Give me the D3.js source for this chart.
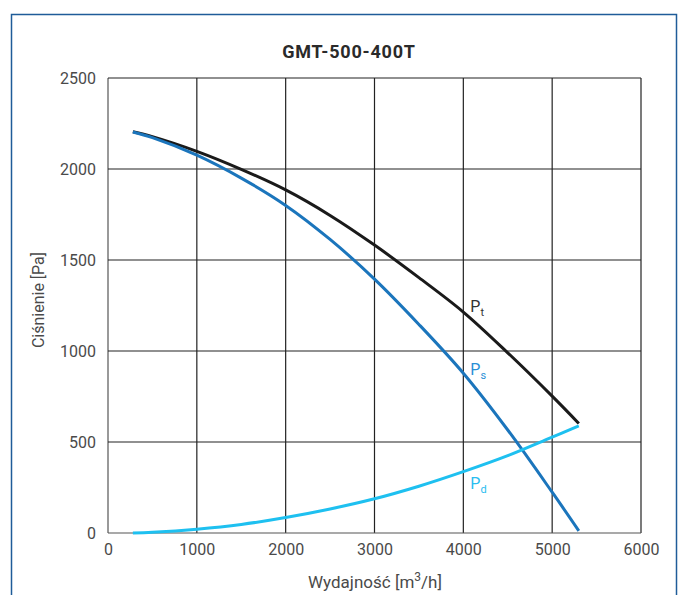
<!DOCTYPE html>
<html><head><meta charset="utf-8">
<script src="https://cdn.jsdelivr.net/npm/d3@7/dist/d3.min.js"></script>
<style>
body{margin:0;background:#fff;}
svg text{font-family:"Roboto","DejaVu Sans",sans-serif;}
</style></head>
<body><svg id="c" width="683" height="595"></svg>
<script>
const title = "GMT-500-400T";
const xLabelMain = "Wydajność [m";
const xLabelSup = "3";
const xLabelEnd = "/h]";
const yLabel = "Ciśnienie [Pa]";
const xTicks = [0,1000,2000,3000,4000,5000,6000];
const yTicks = [0,500,1000,1500,2000,2500];
const flow = [280,500,1000,1500,2000,2500,3000,3500,4000,4500,5000,5300];
const pt   = [2205,2178,2097,1998,1885,1745,1582,1403,1214,990,752,602];
const ps   = [2203,2172,2076,1950,1800,1613,1395,1146,878,566,224,12];
const pd   = [0,4,21,47,85,132,188,257,337,425,527,588];
const series = [
  {name:"P", sub:"t", values:pt, color:"#1a1a1a", text:"#333", labelAt:[4000,1212]},
  {name:"P", sub:"s", values:ps, color:"#1b75bc", text:"#2a8fd6", labelAt:[4000,868]},
  {name:"P", sub:"d", values:pd, color:"#1ec0f0", text:"#29bdf0", labelAt:[4000,242]}
];

const svg = d3.select("#c");
svg.append("rect").attr("x",11.5).attr("y",14.5).attr("width",665).attr("height",600)
  .attr("fill","none").attr("stroke","#1f5c99").attr("stroke-width",1.5);

const L=108,R=641,T=78,B=533;
const x = d3.scaleLinear().domain([0,6000]).range([L,R]);
const y = d3.scaleLinear().domain([0,2500]).range([B,T]);

svg.append("text").attr("x",349).attr("y",58).attr("text-anchor","middle")
  .attr("font-size",18).attr("font-weight","bold").attr("letter-spacing",0.8)
  .attr("fill","#2a2a2a").text(title);

const g = svg.append("g");
g.selectAll(".vx").data(xTicks).join("line")
  .attr("x1",d=>x(d)).attr("x2",d=>x(d)).attr("y1",T).attr("y2",B)
  .attr("stroke",d=>d===0?"#555":"#222").attr("stroke-width",1.2);
g.selectAll(".hy").data(yTicks).join("line")
  .attr("x1",L).attr("x2",R).attr("y1",d=>y(d)).attr("y2",d=>y(d))
  .attr("stroke",d=>d===0?"#555":"#222").attr("stroke-width",1.2);

const xa = svg.append("g").attr("transform",`translate(0,${B})`)
  .call(d3.axisBottom(x).tickValues(xTicks).tickSize(0).tickPadding(11).tickFormat(d3.format("d")));
const ya = svg.append("g").attr("transform",`translate(${L},0)`)
  .call(d3.axisLeft(y).tickValues(yTicks).tickSize(0).tickPadding(12).tickFormat(d3.format("d")));
[xa,ya].forEach(a=>{a.select(".domain").remove();
  a.selectAll("text").attr("font-size",16).attr("fill","#4a4a4a")
   .style("font-family",'"Roboto",sans-serif');});

const xl = svg.append("text").attr("x",375).attr("y",588).attr("text-anchor","middle")
  .attr("font-size",17).attr("fill","#4a4a4a");
xl.append("tspan").text(xLabelMain);
xl.append("tspan").attr("font-size",12).attr("dy",-7).text(xLabelSup);
xl.append("tspan").attr("dy",7).text(xLabelEnd);
svg.append("text").attr("transform","translate(44,300) rotate(-90)").attr("text-anchor","middle")
  .attr("font-size",16).attr("fill","#4a4a4a").text(yLabel);

const line = d3.line().x(d=>x(d[0])).y(d=>y(d[1])).curve(d3.curveCatmullRom.alpha(0.5));
series.forEach(s=>{
  svg.append("path").datum(flow.map((f,i)=>[f,s.values[i]]))
    .attr("d",line).attr("fill","none").attr("stroke",s.color).attr("stroke-width",3);
  const t = svg.append("text").attr("x",x(s.labelAt[0])+7).attr("y",y(s.labelAt[1]))
    .attr("font-size",16).attr("fill",s.text);
  t.append("tspan").text(s.name);
  t.append("tspan").attr("font-size",11).attr("dy",4).text(s.sub);
});
</script></body></html>
